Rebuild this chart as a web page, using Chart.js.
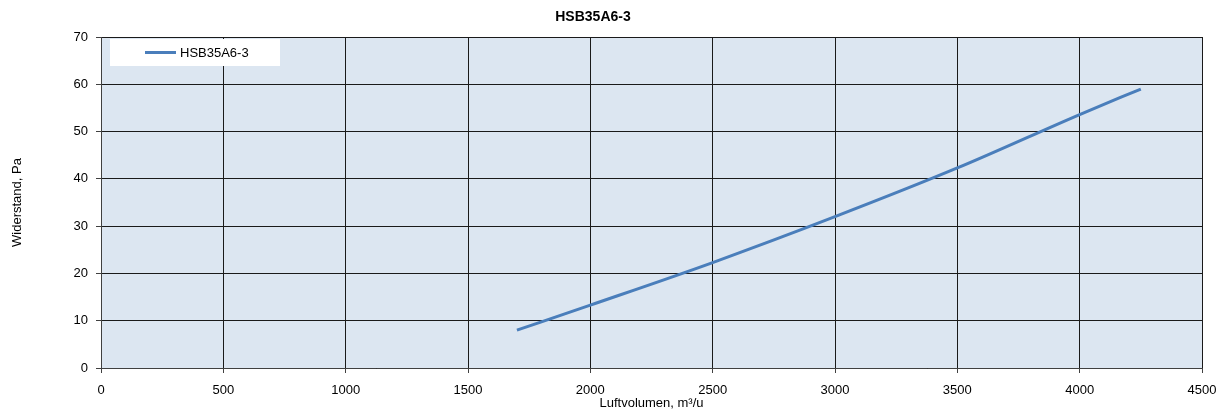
<!DOCTYPE html>
<html>
<head>
<meta charset="utf-8">
<script src="https://cdn.jsdelivr.net/npm/chart.js@4"></script>
<style>
  html, body { margin: 0; padding: 0; background: #fff; }
  #wrap { width: 1221px; height: 412px; }
</style>
</head>
<body>
<div id="wrap"><canvas id="chart" width="1221" height="412"></canvas></div>
<script>
// Data
const chartTitle = "HSB35A6-3";
const seriesLabel = "HSB35A6-3";
const airflow = [1700, 2000, 2500, 3000, 3500, 4000, 4250];
const pressure = [8.0, 13.3, 22.3, 32.0, 42.3, 53.6, 59.0];
const xTicks = [0, 500, 1000, 1500, 2000, 2500, 3000, 3500, 4000, 4500];
const yTicks = [0, 10, 20, 30, 40, 50, 60, 70];

const FONT = "'Liberation Sans', Arial, sans-serif";
const LINE_COLOR = "#4a7ebb";

// plot background + legend box + title
const decorations = {
  id: "decorations",
  beforeDraw(chart) {
    const { ctx, chartArea: a } = chart;
    ctx.save();
    ctx.fillStyle = "#dce6f1";
    ctx.fillRect(a.left, a.top, a.right - a.left, a.bottom - a.top);
    ctx.restore();
  },
  beforeDatasetsDraw(chart) {
    const { ctx, chartArea: a } = chart;
    const ds = chart.data.datasets[0];
    ctx.save();
    ctx.fillStyle = "#fff";
    ctx.fillRect(a.left + 9, a.top + 2, 170, 27);
    ctx.strokeStyle = ds.borderColor;
    ctx.lineWidth = 3;
    ctx.beginPath();
    ctx.moveTo(a.left + 44, a.top + 15.5);
    ctx.lineTo(a.left + 75, a.top + 15.5);
    ctx.stroke();
    ctx.fillStyle = "#000";
    ctx.font = "13px " + FONT;
    ctx.textBaseline = "middle";
    ctx.fillText(ds.label, a.left + 79, a.top + 16);
    ctx.restore();
  },
  afterDraw(chart) {
    const { ctx } = chart;
    ctx.save();
    ctx.fillStyle = "#000";
    ctx.font = "bold 14px " + FONT;
    ctx.textAlign = "center";
    ctx.textBaseline = "middle";
    ctx.fillText(chartTitle, 593, 17);
    ctx.restore();
  }
};

new Chart(document.getElementById("chart"), {
  type: "line",
  data: {
    datasets: [
      {
        label: seriesLabel,
        data: airflow.map((x, i) => ({ x: x, y: pressure[i] })),
        borderColor: LINE_COLOR,
        borderWidth: 3,
        pointRadius: 0,
        fill: false,
        cubicInterpolationMode: "monotone",
      },
    ],
  },
  options: {
    responsive: false,
    animation: false,
    layout: { padding: { top: 37, right: 19, left: 0, bottom: 0 } },
    plugins: {
      legend: { display: false },
      title: { display: false },
      tooltip: { enabled: false },
    },
    scales: {
      x: {
        type: "linear",
        min: 0,
        max: 4500,
        afterBuildTicks: (scale) => { scale.ticks = xTicks.map((v) => ({ value: v })); },
        afterFit: (scale) => {
          scale.height = 44;
          scale.paddingLeft = 0;
          scale.paddingRight = 0;
        },
        grid: { color: "#1a1a1a", lineWidth: 1, tickLength: 5, tickColor: "#404040" },
        border: { color: "#404040", width: 1 },
        ticks: {
          color: "#000",
          font: { family: FONT, size: 13 },
          padding: 10,
          maxRotation: 0,
          callback: (value) => String(value),
        },
        title: {
          display: true,
          text: "Luftvolumen, m³/u",
          color: "#000",
          font: { family: FONT, size: 13 },
          padding: { top: 0, bottom: 1 },
        },
      },
      y: {
        type: "linear",
        min: 0,
        max: 70,
        afterBuildTicks: (scale) => { scale.ticks = yTicks.map((v) => ({ value: v })); },
        afterFit: (scale) => { scale.width = 101; },
        grid: { color: "#1a1a1a", lineWidth: 1, tickLength: 5, tickColor: "#404040" },
        border: { color: "#404040", width: 1 },
        ticks: { color: "#000", font: { family: FONT, size: 13 }, padding: 8 },
        title: {
          display: true,
          text: "Widerstand, Pa",
          color: "#000",
          font: { family: FONT, size: 13 },
          padding: { top: 10, bottom: 0 },
        },
      },
    },
  },
  plugins: [decorations],
});
</script>
</body>
</html>
